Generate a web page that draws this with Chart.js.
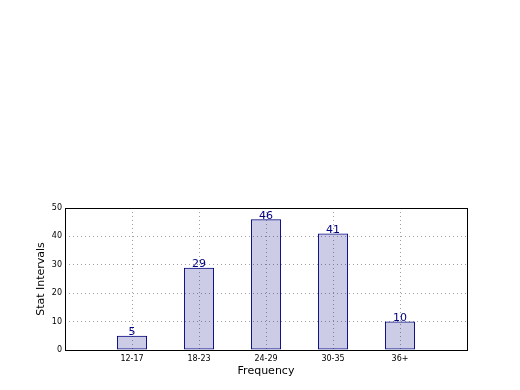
<!DOCTYPE html>
<html>
<head>
<meta charset="utf-8">
<script src="https://cdn.jsdelivr.net/npm/chart.js@4"></script>
<style>
  html, body { margin: 0; padding: 0; background: #fff; }
  #wrap { width: 520px; height: 390px; }
</style>
</head>
<body>
<div id="wrap"><canvas id="statChart" width="520" height="390"></canvas></div>
<script>
// categories padded with blank slots so the axis runs from -1 to 5 like the original
const ageGroups = ['', '12-17', '18-23', '24-29', '30-35', '36+', ''];
const counts = [null, 5, 29, 46, 41, 10, null];
const yTicks = [0, 10, 20, 30, 40, 50];

// frame round the plot area plus the value labels above each bar
const framePlugin = {
    id: 'frame',
    afterDatasetsDraw(chart) {
        const ctx = chart.ctx;
        const a = chart.chartArea;
        const meta = chart.getDatasetMeta(0);
        ctx.save();
        ctx.fillStyle = '#000080';
        ctx.font = '11px "DejaVu Sans"';
        ctx.textAlign = 'center';
        ctx.textBaseline = 'bottom';
        meta.data.forEach((bar, i) => {
            if (counts[i] === null) return;
            ctx.fillText(String(counts[i]), bar.x, bar.y + 2);
        });
        ctx.strokeStyle = '#000';
        ctx.lineWidth = 1;
        ctx.strokeRect(Math.round(a.left) + 0.5, Math.round(a.top) + 0.5,
            Math.round(a.right - a.left), Math.round(a.bottom - a.top));
        ctx.restore();
    }
};

const hideEdges = n => c => (c.index === 0 || c.index === n - 1) ? 'rgba(0,0,0,0)' : '#a0a0a0';

const ctx = document.getElementById('statChart').getContext('2d');
new Chart(ctx, {
    type: 'bar',
    data: {
        labels: ageGroups,
        datasets: [{
            data: counts,
            // translucent fill so the dotted grid shows through, as in the original
            backgroundColor: 'rgba(0, 0, 128, 0.2)',
            borderColor: '#000080',
            borderWidth: 1,
            borderSkipped: false,
            categoryPercentage: 1,
            barPercentage: 0.45
        }]
    },
    options: {
        responsive: false,
        animation: false,
        layout: { padding: { top: 208, right: 53, left: 35, bottom: 12 } },
        plugins: {
            legend: { display: false },
            tooltip: { enabled: false }
        },
        scales: {
            x: {
                offset: false,
                afterFit: scale => { scale.height = 28; },
                border: { display: false, dash: [1, 3] },
                grid: {
                    offset: false,
                    color: hideEdges(ageGroups.length),
                    drawTicks: false
                },
                ticks: {
                    color: '#000',
                    font: { family: 'DejaVu Sans', size: 8 },
                    padding: 4,
                    maxRotation: 0,
                    autoSkip: false
                },
                title: {
                    display: true,
                    text: 'Frequency',
                    color: '#000',
                    font: { family: 'DejaVu Sans', size: 11 },
                    padding: { top: 0, bottom: 0 }
                }
            },
            y: {
                min: 0,
                max: 50,
                afterFit: scale => { scale.width = 30; },
                afterBuildTicks: scale => { scale.ticks = yTicks.map(v => ({ value: v })); },
                border: { display: false, dash: [1, 3] },
                grid: {
                    color: hideEdges(yTicks.length),
                    drawTicks: false
                },
                ticks: {
                    color: '#000',
                    font: { family: 'DejaVu Sans', size: 8 },
                    padding: 3
                },
                title: {
                    display: true,
                    text: 'Stat Intervals',
                    color: '#000',
                    font: { family: 'DejaVu Sans', size: 11 },
                    padding: { top: 0, bottom: 0 }
                }
            }
        }
    },
    plugins: [framePlugin]
});
</script>
</body>
</html>
